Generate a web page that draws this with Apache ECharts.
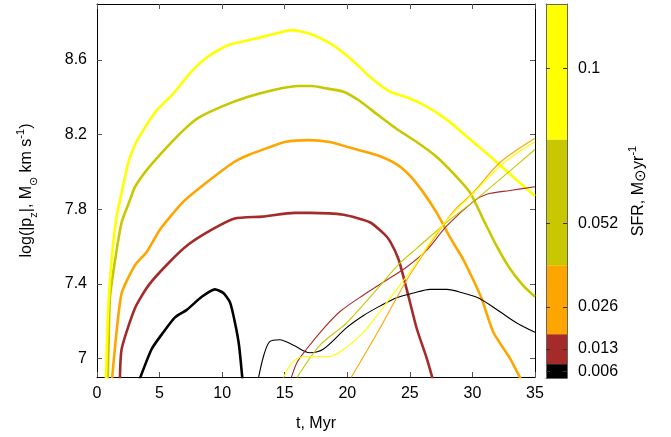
<!DOCTYPE html>
<html>
<head>
<meta charset="utf-8">
<script src="https://cdn.jsdelivr.net/npm/echarts@6/dist/echarts.min.js"></script>
<style>
html,body{margin:0;padding:0;background:#fff;}
#c{width:671px;height:437px;}
</style>
</head>
<body>
<div id="c"></div>
<script>
// ---- data (t in Myr, log|p_z|) ----
const sfrLevels = ['0.006', '0.013', '0.026', '0.052', '0.1'];
const sfrColors = ['#000000', '#a52a2a', '#ffa500', '#c8c800', '#ffff00'];
const yTicks = [7, 7.4, 7.8, 8.2, 8.6];
const cbTicks = [0.006, 0.013, 0.026, 0.052, 0.1];
const cbBounds = [0.004, 0.0083, 0.0176, 0.039, 0.078, 0.12];

// thick curves (first set)
const thickYellow = [[0.7,6.85],[0.85,7.2],[1.04,7.42],[1.3,7.62],[1.57,7.76],[2.0,7.9],[2.5,8.05],[3.0,8.14],[3.57,8.21],[4.77,8.33],[6.1,8.42],[7.57,8.54],[8.9,8.62],[10.5,8.68],[12.36,8.71],[14.2,8.74],[15.56,8.76],[17.0,8.74],[18.6,8.69],[20.2,8.61],[21.8,8.51],[23.4,8.43],[24.75,8.40],[26.35,8.35],[27.95,8.28],[29.54,8.19],[31.14,8.10],[32.47,8.02],[33.8,7.94],[35,7.87]];
const thickOlive = [[0.85,6.85],[0.95,7.15],[1.04,7.33],[1.5,7.55],[1.97,7.73],[2.64,7.85],[3.04,7.92],[4.1,8.02],[5.83,8.15],[7.17,8.24],[8.1,8.29],[9.96,8.35],[11.96,8.40],[14.2,8.44],[16.1,8.46],[17.16,8.46],[18.1,8.45],[19.7,8.43],[21.0,8.38],[22.35,8.31],[23.95,8.23],[25.55,8.16],[27.15,8.08],[28.5,7.99],[29.8,7.89],[30.9,7.74],[31.95,7.60],[33.0,7.48],[34.06,7.39],[35,7.33]];
const thickOrange = [[1.15,6.85],[1.5,7.1],[1.97,7.35],[3.04,7.50],[3.97,7.57],[5.03,7.69],[6.9,7.84],[8.7,7.94],[10.9,8.05],[12.1,8.09],[13.7,8.13],[15.0,8.16],[16.9,8.17],[18.6,8.16],[20.2,8.13],[22.35,8.09],[23.95,8.04],[25.0,7.98],[26.07,7.89],[27.15,7.78],[28.2,7.65],[29.27,7.53],[30.07,7.42],[30.74,7.32],[31.67,7.14],[33.0,7.0],[34.0,6.87]];
const thickBrown = [[1.82,6.85],[1.97,7.05],[3.04,7.27],[4.1,7.39],[5.7,7.51],[7.3,7.61],[9.17,7.69],[11.0,7.75],[13.2,7.76],[15.8,7.78],[17.0,7.78],[19.7,7.77],[21.8,7.73],[22.9,7.67],[23.4,7.63],[24.1,7.53],[24.75,7.37],[25.55,7.16],[26.35,7.0],[26.95,6.86]];
const thickBlack = [[3.25,6.86],[4.37,7.05],[5.3,7.14],[6.23,7.22],[7.17,7.26],[8.37,7.33],[9.43,7.37],[10.1,7.35],[10.63,7.30],[11.03,7.19],[11.35,7.07],[11.66,6.86]];

// thin curves (second set)
const thinYellow = [[14.8,6.88],[15.4,6.96],[16.2,7.005],[17.3,7.01],[18.6,7.01],[19.95,7.06],[21.3,7.14],[22.6,7.25],[23.95,7.37],[25.3,7.49],[26.9,7.65],[28.2,7.76],[30.07,7.885],[32.2,8.03],[33.54,8.10],[35,8.16]];
const thinOlive = [[15.95,6.88],[16.1,6.91],[17.8,7.07],[19.95,7.19],[22.1,7.35],[24.2,7.51],[25.55,7.59],[27.95,7.73],[30.07,7.84],[32.2,7.96],[35,8.12]];
const thinOrange = [[20.2,6.885],[22.6,7.16],[24.75,7.42],[26.9,7.64],[28.5,7.79],[30.07,7.89],[32.2,8.05],[35,8.18]];
const thinBrown = [[15.45,6.88],[16.0,6.98],[16.75,7.05],[18.1,7.16],[19.4,7.25],[21.3,7.34],[23.15,7.42],[24.75,7.49],[26.35,7.58],[27.95,7.71],[30.07,7.84],[31.14,7.88],[33.0,7.90],[35,7.92]];
const thinBlack = [[12.8,6.86],[13.3,7.01],[13.8,7.09],[14.6,7.10],[15.7,7.07],[17.0,7.03],[18.1,7.05],[19.95,7.165],[21.3,7.23],[22.6,7.28],[23.95,7.325],[25.3,7.35],[26.6,7.37],[27.95,7.37],[29.27,7.35],[30.6,7.32],[32.2,7.25],[33.54,7.19],[35,7.14]];

const thickSets = [thickBlack, thickBrown, thickOrange, thickOlive, thickYellow];
const thinSets = [thinBlack, thinBrown, thinOrange, thinOlive, thinYellow];

const FONT = 'Liberation Sans';
const chart = echarts.init(document.getElementById('c'), null, {renderer: 'canvas'});

const series = [];
thickSets.forEach((d, i) => {
  series.push({type: 'line', xAxisIndex: 0, yAxisIndex: 0, data: d, showSymbol: false, smooth: 0.2,
    lineStyle: {color: sfrColors[i], width: 2.6}, clip: true, z: 3});
});
thinSets.forEach((d, i) => {
  series.push({type: 'line', xAxisIndex: 0, yAxisIndex: 0, data: d, showSymbol: false, smooth: 0.3,
    lineStyle: {color: sfrColors[i], width: 1.1}, clip: true, z: 3});
});
// colorbar as stacked bars
series.push({type: 'bar', xAxisIndex: 2, yAxisIndex: 2, stack: 'cb', barWidth: '100%', data: [cbBounds[0]],
  itemStyle: {color: 'rgba(0,0,0,0)'}, silent: true});
for (let i = 0; i < sfrColors.length; i++) {
  series.push({type: 'bar', xAxisIndex: 2, yAxisIndex: 2, stack: 'cb', barWidth: '100%',
    data: [cbBounds[i + 1] - cbBounds[i]], itemStyle: {color: sfrColors[i]}, silent: true});
}

const tickStyle = {show: true, inside: true, length: 5, lineStyle: {color: '#555', width: 1}};
const labelStyle = {color: '#000', fontFamily: FONT, fontSize: 16};

chart.setOption({
  animation: false,
  backgroundColor: '#fff',
  grid: [
    {left: 97, right: 136, top: 4, bottom: 59},
    {left: 546, right: 104, top: 4, bottom: 59}
  ],
  xAxis: [
    {type: 'value', gridIndex: 0, min: 0, max: 35, interval: 5, position: 'bottom',
      name: 't, Myr', nameLocation: 'middle', nameGap: 39,
      nameTextStyle: {color: '#000', fontFamily: FONT, fontSize: 16},
      axisLine: {show: true, onZero: false, lineStyle: {color: '#000', width: 1}},
      axisTick: tickStyle, splitLine: {show: false},
      axisLabel: Object.assign({margin: 9, showMinLabel: true, showMaxLabel: true}, labelStyle)},
    {type: 'value', gridIndex: 0, min: 0, max: 35, interval: 5, position: 'top',
      axisLine: {show: true, onZero: false, lineStyle: {color: '#000', width: 1}},
      axisTick: tickStyle, splitLine: {show: false}, axisLabel: {show: false}},
    {type: 'category', gridIndex: 1, data: ['cb'], show: true, position: 'bottom', z: 5,
      axisLine: {show: true, lineStyle: {color: '#666', width: 1}},
      axisTick: {show: false}, axisLabel: {show: false}, splitLine: {show: false}},
    {type: 'category', gridIndex: 1, data: ['cb'], show: true, position: 'top', z: 5,
      axisLine: {show: true, lineStyle: {color: '#666', width: 1}},
      axisTick: {show: false}, axisLabel: {show: false}, splitLine: {show: false}}
  ],
  yAxis: [
    {type: 'value', gridIndex: 0, min: 6.9, max: 8.9, position: 'left',
      name: '{a|log(|p}{sub|z}{a||, M}{sub|⊙}{a| km s}{sup|-1}{a|)}',
      nameLocation: 'middle', nameRotate: 90, nameGap: 58,
      nameTextStyle: {
        color: '#000', fontFamily: FONT, fontSize: 16,
        rich: {
          a: {fontFamily: FONT, fontSize: 16, color: '#000', lineHeight: 24, verticalAlign: 'middle'},
          sub: {fontFamily: FONT, fontSize: 11, color: '#000', lineHeight: 24, verticalAlign: 'bottom', padding: [8, 0, 0, 0]},
          sup: {fontFamily: FONT, fontSize: 11, color: '#000', lineHeight: 24, verticalAlign: 'top', padding: [0, 0, 8, 0]}
        }
      },
      axisLine: {show: true, onZero: false, lineStyle: {color: '#000', width: 1}},
      axisTick: Object.assign({customValues: yTicks}, tickStyle),
      axisLabel: Object.assign({margin: 10, customValues: yTicks, formatter: v => String(+v.toFixed(1))}, labelStyle),
      splitLine: {show: false}},
    {type: 'value', gridIndex: 0, min: 6.9, max: 8.9, position: 'right',
      axisLine: {show: true, onZero: false, lineStyle: {color: '#000', width: 1}},
      axisTick: Object.assign({customValues: yTicks}, tickStyle),
      axisLabel: {show: false}, splitLine: {show: false}},
    {type: 'value', gridIndex: 1, min: cbBounds[0], max: cbBounds[cbBounds.length - 1], position: 'right', z: 5,
      name: '{a|SFR, M}{o|⊙}{a|yr}{sup|-1}',
      nameLocation: 'middle', nameRotate: 90, nameGap: 60,
      nameTextStyle: {
        color: '#000', fontFamily: FONT, fontSize: 16,
        rich: {
          a: {fontFamily: FONT, fontSize: 16, color: '#000', lineHeight: 24, verticalAlign: 'middle'},
          o: {fontFamily: FONT, fontSize: 15, color: '#000', lineHeight: 24, verticalAlign: 'middle', padding: [3, 0, 0, 0]},
          sup: {fontFamily: FONT, fontSize: 11, color: '#000', lineHeight: 24, verticalAlign: 'top', padding: [0, 0, 8, 0]}
        }
      },
      axisLine: {show: true, onZero: false, lineStyle: {color: '#666', width: 1}},
      axisTick: {show: true, inside: true, length: 4, customValues: cbTicks, lineStyle: {color: '#333', width: 1}},
      axisLabel: Object.assign({margin: 11, customValues: cbTicks, formatter: v => String(v)}, labelStyle),
      splitLine: {show: false}},
    {type: 'value', gridIndex: 1, min: cbBounds[0], max: cbBounds[cbBounds.length - 1], position: 'left', z: 5,
      axisLine: {show: true, onZero: false, lineStyle: {color: '#666', width: 1}},
      axisTick: {show: true, inside: true, length: 4, customValues: cbTicks, lineStyle: {color: '#333', width: 1}},
      axisLabel: {show: false}, splitLine: {show: false}}
  ],
  series: series
});
</script>
</body>
</html>
